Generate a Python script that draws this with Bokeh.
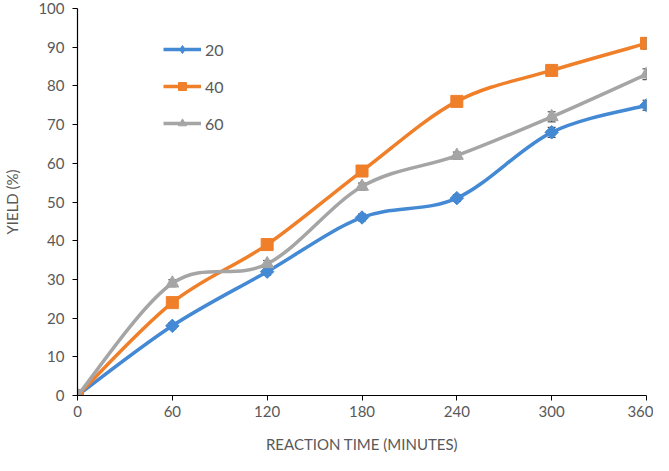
import math
from bokeh.plotting import figure
from bokeh.models import ColumnDataSource, Whisker, Legend, LegendItem, Range1d, FixedTicker
from bokeh.embed import file_html
from bokeh.resources import INLINE

time_min = [0, 60, 120, 180, 240, 300, 360]
yield_20 = [0, 18, 32, 46, 51, 68, 75]
yield_40 = [0, 24, 39, 58, 76, 84, 91]
yield_60 = [0, 29, 34, 54, 62, 72, 83]
err_20 = [0, 0.8, 0.9, 0.9, 0.9, 1.3, 1.3]
err_40 = [0, 0.9, 0.9, 0.9, 0.9, 1.3, 1.5]
err_60 = [0, 0.9, 0.9, 0.9, 0.9, 1.3, 1.4]
series_names = ["20", "40", "60"]
x_ticks = [0, 60, 120, 180, 240, 300, 360]
y_ticks = [0, 10, 20, 30, 40, 50, 60, 70, 80, 90, 100]

colors = ["#4489D3", "#F07F2A", "#A5A5A5"]
markers = ["square", "square", "triangle"]
legend_markers = ["diamond", "square", "triangle"]
legend_sizes = [14, 12, 13]
angles = [math.pi / 4, 0, 0]
msizes = [9.5, 12, 13]
FONT = "Lato"
TXT = "#595959"

p = figure(width=653, height=455, output_backend="svg", toolbar_location=None,
           x_range=Range1d(0, 360), y_range=Range1d(0, 100),
           min_border_left=66, min_border_right=7, min_border_top=8, min_border_bottom=0)
p.outline_line_color = None
p.grid.visible = False

for ax in (p.xaxis[0], p.yaxis[0]):
    ax.axis_line_color = "black"
    ax.axis_line_width = 1.2
    ax.major_tick_line_color = "black"
    ax.major_tick_in = 0
    ax.major_tick_out = 5
    ax.minor_tick_line_color = None
    ax.major_label_text_font = FONT
    ax.major_label_text_font_size = "15px"
    ax.major_label_text_color = TXT
    ax.axis_label_text_font = FONT
    ax.axis_label_text_font_style = "normal"
    ax.axis_label_text_color = TXT
    ax.axis_label_text_font_size = "15px"

p.xaxis.ticker = FixedTicker(ticks=x_ticks)
p.yaxis.ticker = FixedTicker(ticks=y_ticks)
p.xaxis.axis_label = "REACTION TIME (MINUTES)"
p.yaxis.axis_label = "YIELD (%)"
p.xaxis.major_label_standoff = 5
p.yaxis.major_label_standoff = 8
p.xaxis.axis_label_standoff = 15
p.yaxis.axis_label_standoff = 14


def bezier_data(xs, ys, t=1.0 / 6.0):
    n = len(xs)
    d = dict(x0=[], y0=[], x1=[], y1=[], cx0=[], cy0=[], cx1=[], cy1=[])
    for i in range(n - 1):
        xp, yp = (xs[i - 1], ys[i - 1]) if i > 0 else (xs[i], ys[i])
        xn, yn = (xs[i + 2], ys[i + 2]) if i + 2 < n else (xs[i + 1], ys[i + 1])
        d["x0"].append(xs[i]); d["y0"].append(ys[i])
        d["x1"].append(xs[i + 1]); d["y1"].append(ys[i + 1])
        d["cx0"].append(xs[i] + (xs[i + 1] - xp) * t)
        d["cy0"].append(ys[i] + (ys[i + 1] - yp) * t)
        d["cx1"].append(xs[i + 1] - (xn - xs[i]) * t)
        d["cy1"].append(ys[i + 1] - (yn - ys[i]) * t)
    return d


items = []
for k, (name, ys, errs) in enumerate(zip(series_names, [yield_20, yield_40, yield_60],
                                         [err_20, err_40, err_60])):
    c = colors[k]
    bsrc = ColumnDataSource(bezier_data(time_min, ys))
    br = p.bezier(x0="x0", y0="y0", x1="x1", y1="y1", cx0="cx0", cy0="cy0",
                  cx1="cx1", cy1="cy1", source=bsrc, line_color=c, line_width=3.5)
    src = ColumnDataSource(dict(x=time_min, y=ys,
                                lo=[a - e for a, e in zip(ys, errs)],
                                hi=[a + e for a, e in zip(ys, errs)]))
    w = Whisker(base="x", upper="hi", lower="lo", source=src, dimension="height",
                line_color="#333333", line_width=1)
    w.upper_head.size = 8
    w.lower_head.size = 8
    w.upper_head.line_color = "#333333"
    w.lower_head.line_color = "#333333"
    p.add_layout(w)
    p.scatter(x="x", y="y", source=src, marker=markers[k], size=msizes[k],
              angle=angles[k], fill_color=c, line_color=c)
    # legend-only marker renderer (hidden in the plot)
    lr = p.scatter(x="x", y="y", source=src, marker=legend_markers[k],
                   size=legend_sizes[k], fill_color=c, line_color=c, visible=False)
    items.append(LegendItem(label=name, renderers=[br, lr]))

legend = Legend(items=items, location=(86, 262), padding=0, spacing=17,
                glyph_width=38, glyph_height=20, label_height=20,
                label_text_font=FONT, label_text_font_size="16px",
                label_text_color=TXT, label_standoff=4,
                inactive_fill_alpha=0,
                border_line_color=None, background_fill_alpha=0)
p.add_layout(legend)

open("out.html", "w").write(file_html(p, INLINE))
